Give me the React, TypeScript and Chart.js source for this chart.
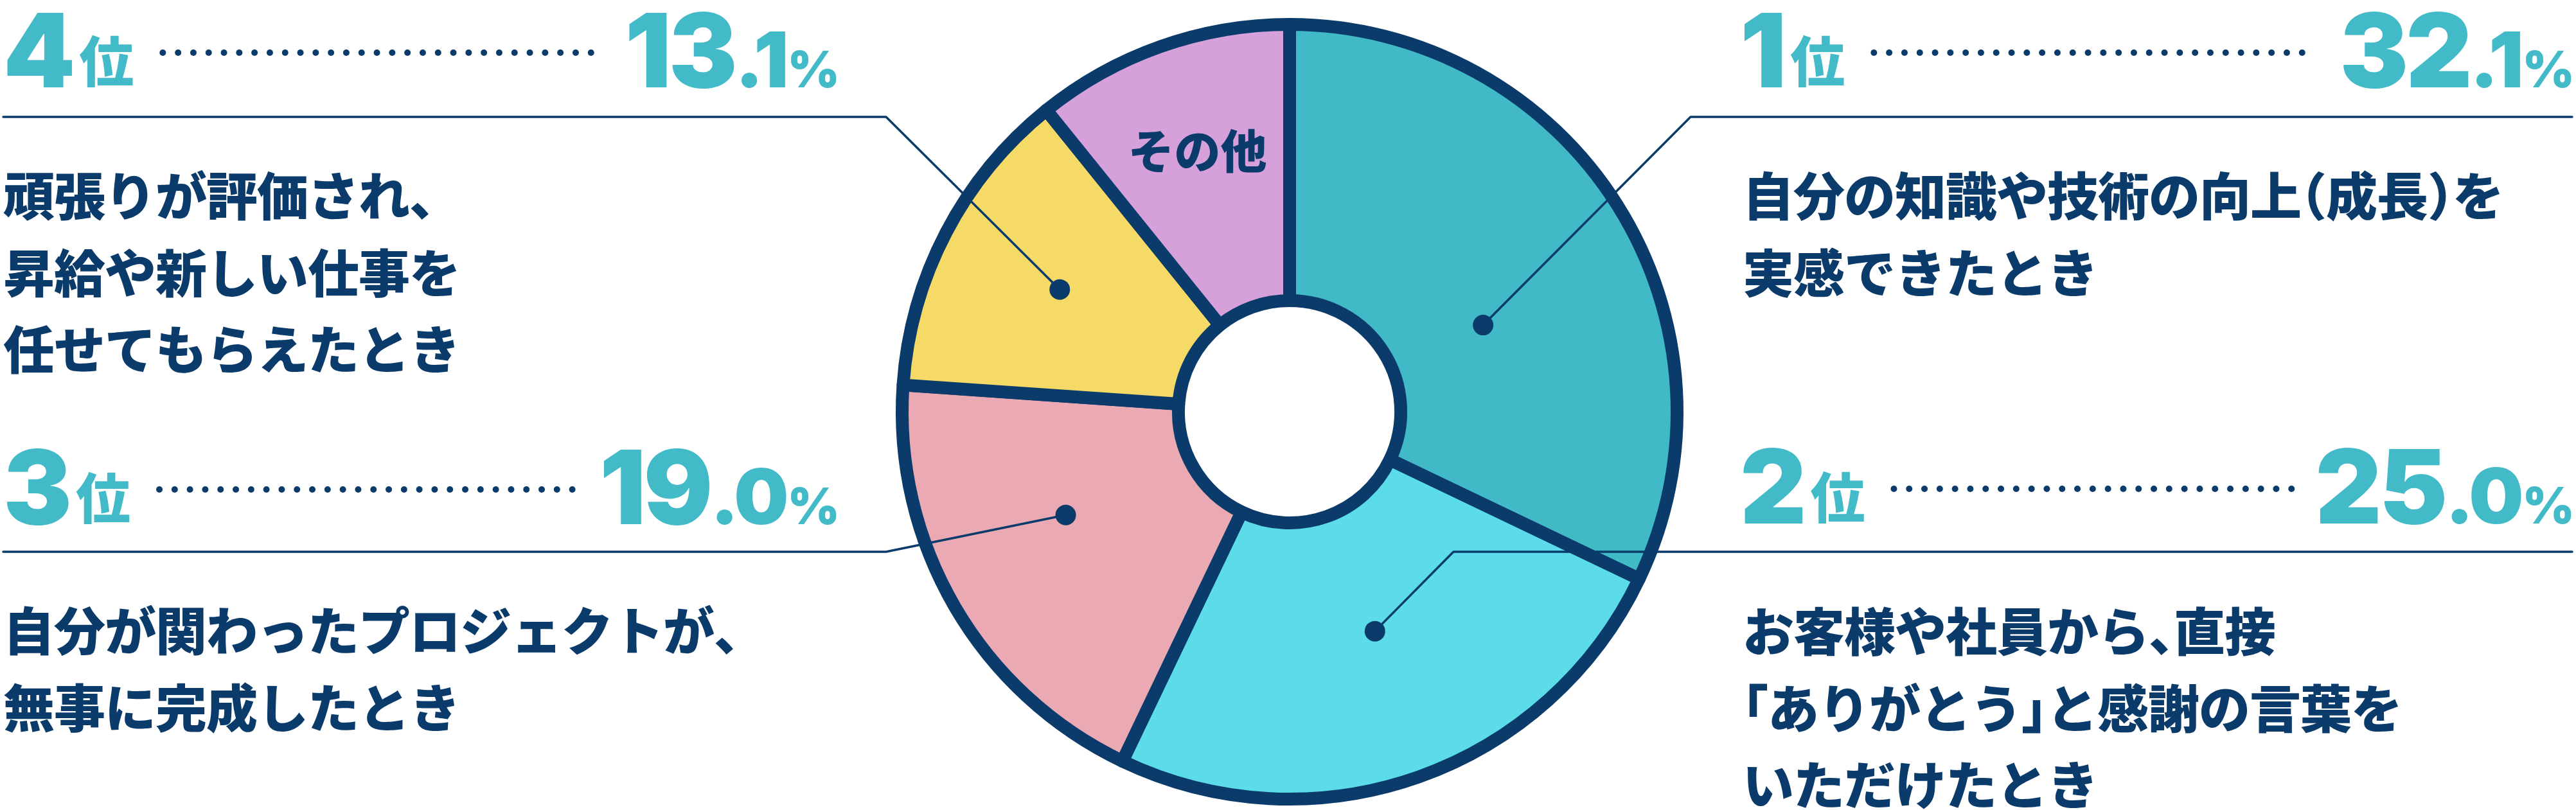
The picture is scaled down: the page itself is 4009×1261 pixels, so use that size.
import React, { useEffect, useRef } from "react";
import { Chart, registerables } from "chart.js";

Chart.register(...registerables);

// data
const categories = [
  "自分の知識や技術の向上（成長）を実感できたとき",
  "お客様や社員から、直接「ありがとう」と感謝の言葉をいただけたとき",
  "自分が関わったプロジェクトが、無事に完成したとき",
  "頑張りが評価され、昇給や新しい仕事を任せてもらえたとき",
  "その他",
];
const shares = [32.1, 25.0, 19.0, 13.1, 10.8];
const rankLabels = ["1", "2", "3", "4"];
const rankSuffix = "位";
const descriptions = [
  ["自分の知識や技術の向上（成長）を", "実感できたとき"],
  ["お客様や社員から、直接", "「ありがとう」と感謝の言葉を", "いただけたとき"],
  ["自分が関わったプロジェクトが、", "無事に完成したとき"],
  ["頑張りが評価され、", "昇給や新しい仕事を", "任せてもらえたとき"],
];
const otherLabel = "その他";

// styles
const NAVY = "#0B3B6B";
const TEAL = "#42BAC7";
const sliceColors = ["#41B9C6", "#5BDCE8", "#EBA9B3", "#F5DA67", "#D6A1DA"];
const JP = '"Noto Sans CJK JP"';
const OPENERS = "（「";
const CLOSERS = "）」、。";

// where each callout panel sits
const panels = [
  { x0: 2708, x1: 4003, base: 136, lineY: 182, textY: 305, elbowX: 2631, right: true },
  { x0: 2708, x1: 4003, base: 815, lineY: 859, textY: 983, elbowX: 2262, right: true },
  { x0: 5, x1: 1303, base: 816, lineY: 859, textY: 982, elbowX: 1379, right: false },
  { x0: 5, x1: 1303, base: 136, lineY: 182, textY: 305, elbowX: 1379, right: false },
];
// dot position inside slice: [fraction of angle, fraction of ring width]
const dotAt = [
  [0.57, 0.365],
  [0.48, 0.45],
  [0.58, 0.49],
  [0.51, 0.54],
];

// draw Japanese text with half-width brackets/commas (like palt)
function drawJP(ctx: CanvasRenderingContext2D, text: string, x: number, y: number, em: number, track: number) {
  let cx = x;
  for (const ch of text) {
    if (OPENERS.includes(ch)) {
      ctx.fillText(ch, cx - em * 0.5, y);
      cx += em * 0.5 + track;
    } else if (CLOSERS.includes(ch)) {
      ctx.fillText(ch, cx, y);
      cx += em * 0.5 + track;
    } else {
      ctx.fillText(ch, cx, y);
      cx += ctx.measureText(ch).width + track;
    }
  }
}

const calloutPlugin = {
  id: "callouts",
  afterDatasetsDraw(chart: any) {
    const ctx: CanvasRenderingContext2D = chart.ctx;
    const arcs = chart.getDatasetMeta(0).data;
    ctx.save();

    panels.forEach((p, i) => {
      const a = arcs[i].getProps(
        ["x", "y", "startAngle", "endAngle", "innerRadius", "outerRadius"],
        true
      );
      const ang = a.startAngle + (a.endAngle - a.startAngle) * dotAt[i][0];
      const r = a.innerRadius + (a.outerRadius - a.innerRadius) * dotAt[i][1];
      const dx = a.x + Math.cos(ang) * r;
      const dy = a.y + Math.sin(ang) * r;

      // leader line + dot
      ctx.strokeStyle = NAVY;
      ctx.lineWidth = 3.5;
      ctx.lineCap = "round";
      ctx.lineJoin = "round";
      ctx.beginPath();
      ctx.moveTo(dx, dy);
      ctx.lineTo(p.elbowX, p.lineY);
      ctx.lineTo(p.right ? p.x1 : p.x0, p.lineY);
      ctx.stroke();
      ctx.fillStyle = NAVY;
      ctx.beginPath();
      ctx.arc(dx, dy, 16, 0, Math.PI * 2);
      ctx.fill();

      // rank
      ctx.fillStyle = TEAL;
      ctx.textAlign = "left";
      ctx.textBaseline = "alphabetic";
      ctx.font = "900 160px Inter";
      ctx.fillText(rankLabels[i], p.x0, p.base);
      let cx = p.x0 + ctx.measureText(rankLabels[i]).width + 6;
      ctx.font = `900 85px ${JP}`;
      ctx.textBaseline = "middle";
      ctx.fillText(rankSuffix, cx, p.base - 40);
      cx += ctx.measureText(rankSuffix).width;

      // value
      const [intPart, decPart] = shares[i].toFixed(1).split(".");
      ctx.textBaseline = "alphabetic";
      (ctx as any).letterSpacing = "-4px";
      ctx.font = "900 160px Inter";
      const wInt = ctx.measureText(intPart).width;
      ctx.font = "900 120px Inter";
      const wDec = ctx.measureText("." + decPart).width;
      ctx.font = "900 78px Inter";
      const wPct = ctx.measureText("%").width;
      let vx = p.x1 - (wInt + wDec + wPct + 2);
      const vStart = vx;
      ctx.font = "900 160px Inter";
      ctx.fillText(intPart, vx, p.base);
      vx += wInt;
      ctx.font = "900 120px Inter";
      ctx.fillText("." + decPart, vx, p.base);
      vx += wDec + 2;
      ctx.font = "900 78px Inter";
      ctx.fillText("%", vx, p.base);
      (ctx as any).letterSpacing = "0px";

      // dotted rule
      ctx.fillStyle = NAVY;
      for (let x = cx + 45; x <= vStart - 36; x += 23.8) {
        ctx.beginPath();
        ctx.arc(x, p.base - 54, 5, 0, Math.PI * 2);
        ctx.fill();
      }

      // description
      ctx.font = `900 80px ${JP}`;
      ctx.textBaseline = "middle";
      descriptions[i].forEach((line, k) => {
        drawJP(ctx, line, p.x0 + (p.right ? 4 : 0), p.textY + k * 119.5, 80, -1);
      });
    });

    // label inside the "other" slice
    const o = arcs[4].getProps(
      ["x", "y", "startAngle", "endAngle", "innerRadius", "outerRadius"],
      true
    );
    const oa = (o.startAngle + o.endAngle) / 2;
    const orad = o.innerRadius + (o.outerRadius - o.innerRadius) * 0.6;
    ctx.fillStyle = NAVY;
    ctx.font = `900 72px ${JP}`;
    ctx.textAlign = "center";
    ctx.textBaseline = "middle";
    ctx.fillText(otherLabel, o.x + Math.cos(oa) * orad, o.y + Math.sin(oa) * orad);

    ctx.restore();
  },
};

const App: React.FC = () => {
  const chartRef = useRef<HTMLCanvasElement>(null);

  useEffect(() => {
    if (!chartRef.current) return;
    const ctx = chartRef.current.getContext("2d");
    if (!ctx) return;
    const chart = new Chart(ctx, {
      type: "doughnut",
      data: {
        labels: categories,
        datasets: [
          {
            data: shares,
            backgroundColor: sliceColors,
            borderColor: NAVY,
            borderWidth: 20,
            hoverBorderWidth: 20,
            hoverOffset: 0,
            borderJoinStyle: "round",
          },
        ],
      },
      options: {
        responsive: false,
        animation: false,
        devicePixelRatio: 1,
        cutout: "28.7%",
        events: [],
        layout: { padding: { left: 1394, right: 1389, top: 28, bottom: 7 } },
        plugins: {
          legend: { display: false },
          tooltip: { enabled: false },
        },
      },
      plugins: [calloutPlugin],
    });
    return () => {
      chart.destroy();
    };
  }, []);

  return (
    <canvas
      ref={chartRef}
      width={4009}
      height={1261}
      style={{ position: "absolute", left: 0, top: 0, width: 4009, height: 1261, background: "#fff" }}
    />
  );
};

export default App;
